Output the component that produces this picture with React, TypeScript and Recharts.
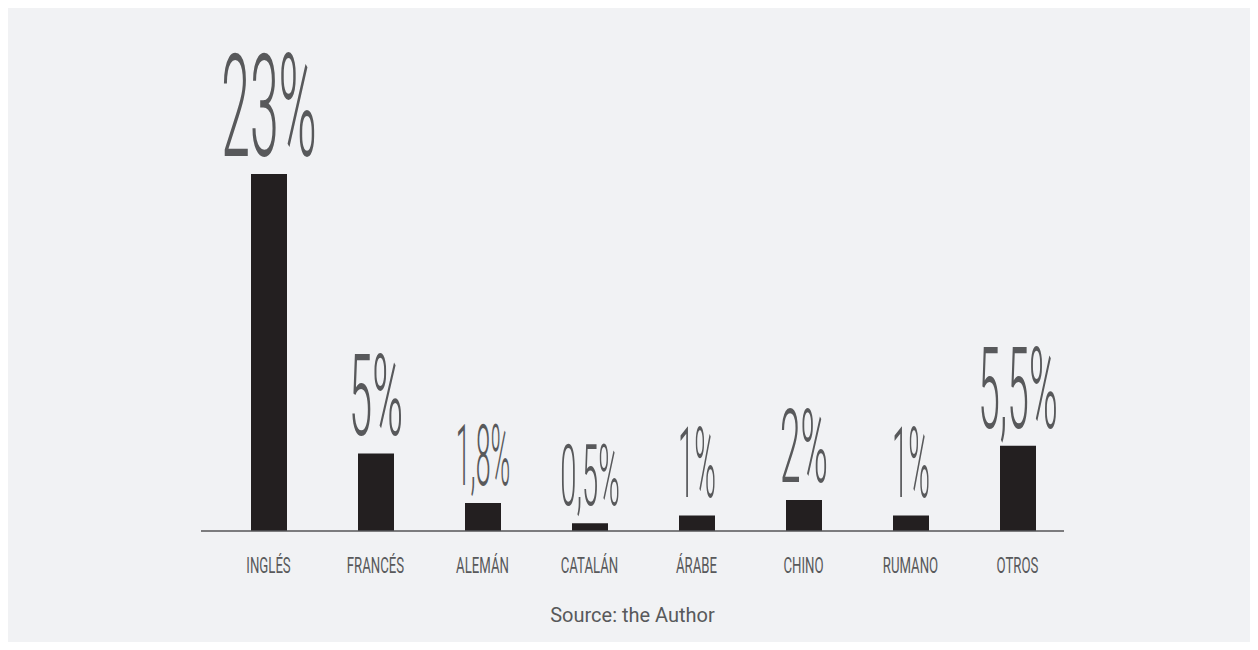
import React from "react";
import { BarChart, Bar, XAxis, YAxis, LabelList } from "recharts";

const categories = ["INGLÉS", "FRANCÉS", "ALEMÁN", "CATALÁN", "ÁRABE", "CHINO", "RUMANO", "OTROS"];
const values = [23, 5, 1.8, 0.5, 1, 2, 1, 5.5];
const valueLabels = ["23%", "5%", "1,8%", "0,5%", "1%", "2%", "1%", "5,5%"];
const sourceText = "Source: the Author";

// style-only arrays (label glyph heights / widths in px)
const LABEL_CAP = [102, 80, 61, 60, 70, 72, 70, 80];
const LABEL_W = [96, 54, 55, 60, 38, 48, 38, 80];

const data = categories.map((c, i) => ({ name: c, value: values[i], label: valueLabels[i] }));

const TEXT = "#58595b";
const BAR = "#231f20";
const BG = "#f1f2f4";
const FONT = "Roboto, 'DejaVu Sans', sans-serif";

// approximate Roboto advance widths (em) for horizontal fitting
const advance = (s: string) =>
  s.split("").reduce((a, ch) => a + (ch === "%" ? 0.733 : ch === "," ? 0.197 : 0.562), 0);

const ValueLabel = (props: any) => {
  const { x, y, width, index } = props;
  const cap = LABEL_CAP[index];
  const fs = cap / 0.711;
  const cx = x + width / 2;
  const txt = valueLabels[index];
  const sx = LABEL_W[index] / (advance(txt) * fs);
  return (
    <g transform={`translate(${cx},${y - 18}) scale(${sx},1)`}>
      <text
        x={0}
        y={0}
        textAnchor="middle"
        fontFamily={FONT}
        fontWeight={300}
        fontSize={fs}
        fill={TEXT}
      >
        {txt}
      </text>
    </g>
  );
};

const CatTick = (props: any) => {
  const { x, y, payload } = props;
  return (
    <g transform={`translate(${x},${y + 42}) scale(0.6,1)`}>
      <text x={0} y={0} textAnchor="middle" fontFamily={FONT} fontSize={22} fill={TEXT}>
        {payload.value}
      </text>
    </g>
  );
};

const SourceLabel = (props: any) => {
  const vb = props.viewBox || {};
  return (
    <text
      x={vb.x + vb.width / 2}
      y={vb.y + 91}
      textAnchor="middle"
      fontFamily={FONT}
      fontSize={20}
      fill={TEXT}
    >
      {sourceText}
    </text>
  );
};

export default function App() {
  return (
    <div style={{ width: 1242, height: 634, background: BG }}>
      <BarChart
        width={1242}
        height={634}
        data={data}
        margin={{ top: 166, right: 186, bottom: 51, left: 193 }}
      >
        <XAxis
          dataKey="name"
          height={60}
          padding={{ left: 14, right: -7 }}
          axisLine={{ stroke: "#555557", strokeWidth: 1.6 }}
          tickLine={false}
          tickSize={0}
          tickMargin={0}
          tick={<CatTick />}
          interval={0}
          label={<SourceLabel />}
        />
        <YAxis hide domain={[0, 23]} />
        <Bar dataKey="value" fill={BAR} barSize={36} isAnimationActive={false}>
          <LabelList dataKey="label" content={<ValueLabel />} />
        </Bar>
      </BarChart>
    </div>
  );
}
